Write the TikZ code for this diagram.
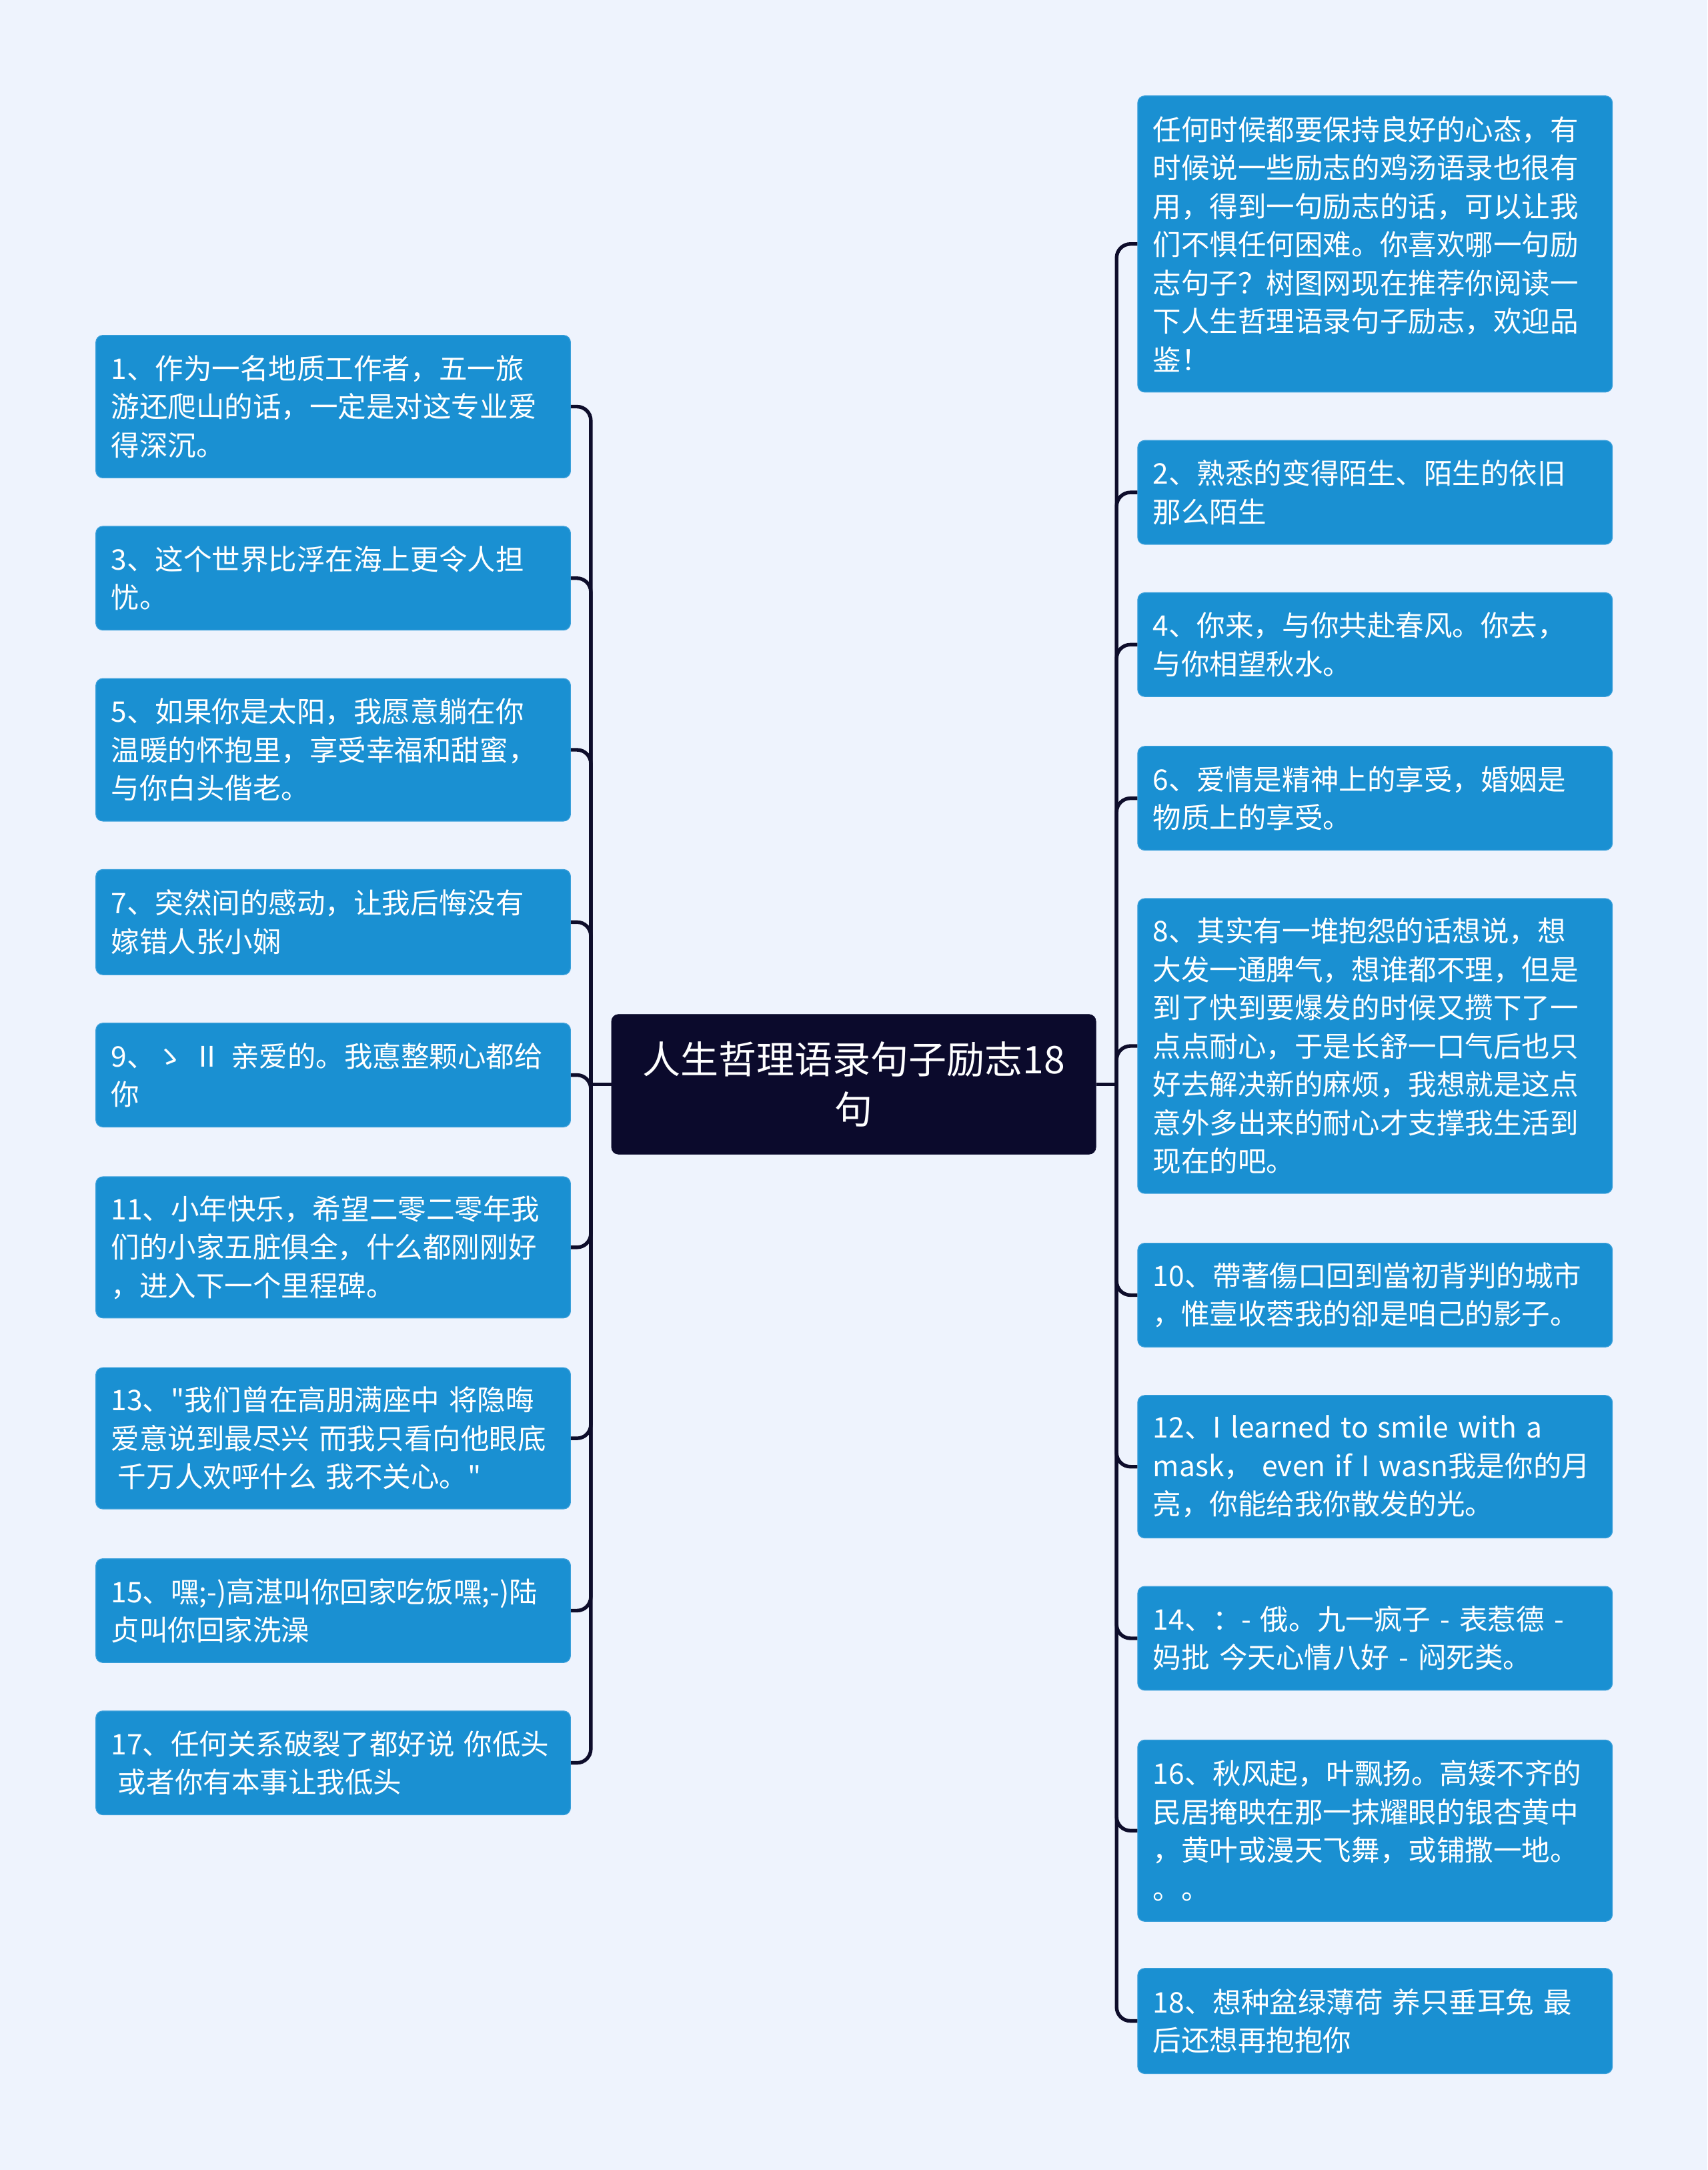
\documentclass[tikz,border=0pt]{standalone}
\usepackage{fontspec}
\setmainfont{Noto Sans CJK SC}
\newfontfamily\cjkfont{Noto Sans CJK SC}
\definecolor{bgc}{HTML}{EEF3FD}
\definecolor{leafblue}{HTML}{1A90D2}
\definecolor{leafedge}{HTML}{3A9FDA}
\definecolor{rootc}{HTML}{0B0A2C}
\definecolor{linkc}{HTML}{0E0D2B}
\begin{document}
\begin{tikzpicture}[x=1pt,y=-1pt,
  leaf/.style={draw=leafedge, line width=0.6pt, fill=leafblue, rounded corners=5pt,
    text=white, font=\cjkfont\fontsize{20.5}{27.7}\selectfont, align=left, text width=321pt,
    inner xsep=11pt, inner ysep=0pt, anchor=north west},
  rootbox/.style={draw=rootc, fill=rootc, rounded corners=5pt, text=white,
    font=\cjkfont\fontsize{27.5}{36}\selectfont, align=center, minimum width=350pt,
    minimum height=101pt, inner sep=0pt},
  link/.style={draw=linkc, line width=2.6pt, rounded corners=10pt}]
\fill[bgc] (0,0) rectangle (1234,1568);

\node[rootbox] (root) at (617,783.5) {人生哲理语录句子励志18\\句};

% left
\node[leaf, minimum height=103pt] (l1) at (69,242) {1、作为一名地质工作者，五一旅\\游还爬山的话，一定是对这专业爱\\得深沉。};
\node[leaf, minimum height=75pt] (l3) at (69,380) {3、这个世界比浮在海上更令人担\\忧。};
\node[leaf, minimum height=103pt] (l5) at (69,490) {5、如果你是太阳，我愿意躺在你\\温暖的怀抱里，享受幸福和甜蜜，\\与你白头偕老。};
\node[leaf, minimum height=76pt] (l7) at (69,628) {7、突然间的感动，让我后悔没有\\嫁错人张小娴};
\node[leaf, minimum height=75pt] (l9) at (69,739) {9、ゝ Ⅱ 亲爱的。我悳整颗心都给\\你};
\node[leaf, minimum height=102pt] (l11) at (69,850) {11、小年快乐，希望二零二零年我\\们的小家五脏俱全，什么都刚刚好\\，进入下一个里程碑。};
\node[leaf, minimum height=102pt] (l13) at (69,988) {13、"我们曾在高朋满座中 将隐晦\\爱意说到最尽兴 而我只看向他眼底\\\hspace*{5pt}千万人欢呼什么 我不关心。"};
\node[leaf, minimum height=75pt] (l15) at (69,1126) {15、嘿;-)高湛叫你回家吃饭嘿;-)陆\\贞叫你回家洗澡};
\node[leaf, minimum height=75pt] (l17) at (69,1236) {17、任何关系破裂了都好说 你低头\\\hspace*{5pt}或者你有本事让我低头};

% right
\node[leaf, minimum height=214pt] (r0) at (822,69) {任何时候都要保持良好的心态，有\\时候说一些励志的鸡汤语录也很有\\用，得到一句励志的话，可以让我\\们不惧任何困难。你喜欢哪一句励\\志句子？树图网现在推荐你阅读一\\下人生哲理语录句子励志，欢迎品\\鉴！};
\node[leaf, minimum height=75pt] (r2) at (822,318) {2、熟悉的变得陌生、陌生的依旧\\那么陌生};
\node[leaf, minimum height=75pt] (r4) at (822,428) {4、你来，与你共赴春风。你去，\\与你相望秋水。};
\node[leaf, minimum height=75pt] (r6) at (822,539) {6、爱情是精神上的享受，婚姻是\\物质上的享受。};
\node[leaf, minimum height=213pt] (r8) at (822,649) {8、其实有一堆抱怨的话想说，想\\大发一通脾气，想谁都不理，但是\\到了快到要爆发的时候又攒下了一\\点点耐心，于是长舒一口气后也只\\好去解决新的麻烦，我想就是这点\\意外多出来的耐心才支撑我生活到\\现在的吧。};
\node[leaf, minimum height=75pt] (r10) at (822,898) {10、帶著傷口回到當初背判的城市\\，惟壹收蓉我的卻是咱己的影子。};
\node[leaf, minimum height=103pt] (r12) at (822,1008) {12、I learned to smile with a\\mask，\ even if I wasn我是你的月\\亮，你能给我你散发的光。};
\node[leaf, minimum height=75pt] (r14) at (822,1146) {14、：- 俄。九一疯子 - 表惹德 -\\妈批 今天心情八好 - 闷死类。};
\node[leaf, minimum height=131pt] (r16) at (822,1257) {16、秋风起，叶飘扬。高矮不齐的\\民居掩映在那一抹耀眼的银杏黄中\\，黄叶或漫天飞舞，或铺撒一地。\\。。};
\node[leaf, minimum height=76pt] (r18) at (822,1422) {18、想种盆绿薄荷 养只垂耳兔 最\\后还想再抱抱你};

\coordinate (lt) at (427,783.5);
\coordinate (rt) at (807,783.5);
\draw[link] (root.west) -- (lt);
\draw[link] (root.east) -- (rt);
\foreach \n in {l1,l3,l5,l7,l9,l11,l13,l15,l17}
  \draw[link] (lt) |- (\n.east);
\foreach \n in {r0,r2,r4,r6,r8,r10,r12,r14,r16,r18}
  \draw[link] (rt) |- (\n.west);
\end{tikzpicture}
\end{document}
